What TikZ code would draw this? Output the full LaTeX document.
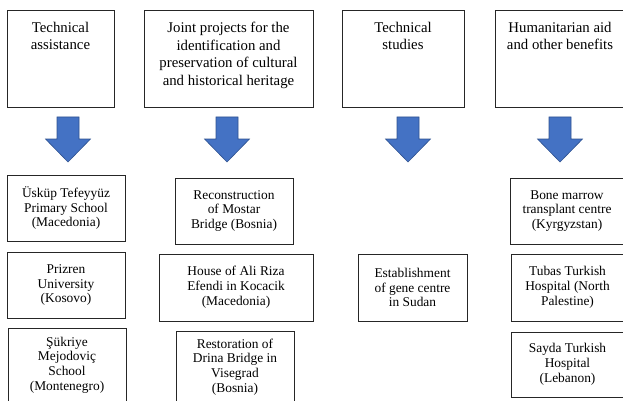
\documentclass[tikz,border=0pt]{standalone}
\usepackage{fontspec}
\setmainfont{Liberation Serif}
\definecolor{arrowblue}{HTML}{4472C4}
\definecolor{arrowedge}{HTML}{2F528F}
\begin{document}
\begin{tikzpicture}[x=1pt,y=-1pt,
  frame/.style={draw=black!85, line width=0.8pt, rectangle, inner sep=2pt},
  toptxt/.style={anchor=north, align=center, inner sep=0pt, font=\fontsize{14.8}{17.8}\selectfont},
  subbox/.style={frame, align=center, font=\fontsize{13.4}{14.8}\selectfont},
  blockarrow/.style={fill=arrowblue, draw=arrowedge, line width=0.6pt, line join=miter}]
\useasboundingbox (0,0) rectangle (623,401);
\clip (0,0) rectangle (623,401);
% top boxes
\node[frame, minimum width=107pt, minimum height=97pt] (t1) at (60.5,58.5) {};
\node[toptxt] (t1txt) at ([yshift=-12pt]t1.north) {Technical\\assistance};
\node[frame, minimum width=169pt, minimum height=97pt] (t2) at (228.5,58.5) {};
\node[toptxt] (t2txt) at ([yshift=-12pt]t2.north) {Joint projects for the\\identification and\\preservation of cultural\\and historical heritage};
\node[frame, minimum width=122pt, minimum height=97pt] (t3) at (403,58.5) {};
\node[toptxt] (t3txt) at ([yshift=-12pt]t3.north) {Technical\\studies};
\node[frame, minimum width=130pt, minimum height=97pt] (t4) at (560,58.5) {};
\node[toptxt] (t4txt) at ([yshift=-12pt]t4.north) {Humanitarian aid\\and other benefits};
% block arrows
\foreach \x in {68,227,408,560}
  \draw[blockarrow] (\x-11,117) -- (\x+11,117) -- (\x+11,139) -- (\x+22.5,139)
    -- (\x,162) -- (\x-22.5,139) -- (\x-11,139) -- cycle;
% column 1
\node[subbox, minimum width=118pt, minimum height=66pt] (b11) at (66,208) {Üsküp Tefeyyüz\\Primary School\\(Macedonia)};
\node[subbox, minimum width=118pt, minimum height=66pt] (b12) at (66,285) {Prizren\\University\\(Kosovo)};
\node[subbox, minimum width=118pt, minimum height=74pt] (b13) at (67,365) {Şükriye\\Mejodoviç\\School\\(Montenegro)};
% column 2
\node[subbox, minimum width=118pt, minimum height=66pt] (b21) at (234,211) {Reconstruction\\of Mostar\\Bridge (Bosnia)};
\node[subbox, minimum width=154pt, minimum height=67pt] (b22) at (236,287.5) {House of Ali Riza\\Efendi in Kocacik\\(Macedonia)};
\node[subbox, minimum width=118pt, minimum height=72pt] (b23) at (235,367) {Restoration of\\Drina Bridge in\\Visegrad\\(Bosnia)};
% column 3
\node[subbox, minimum width=109pt, minimum height=67pt] (b31) at (412.5,287.5) {Establishment\\of gene centre\\in Sudan};
% column 4
\node[subbox, minimum width=114pt, minimum height=66pt] (b41) at (567,211) {Bone marrow\\transplant centre\\(Kyrgyzstan)};
\node[subbox, minimum width=113pt, minimum height=67pt] (b42) at (567.5,287.5) {Tubas Turkish\\Hospital (North\\Palestine)};
\node[subbox, minimum width=113pt, minimum height=65pt] (b43) at (567.5,364.5) {Sayda Turkish\\Hospital\\(Lebanon)};
\end{tikzpicture}
\end{document}
